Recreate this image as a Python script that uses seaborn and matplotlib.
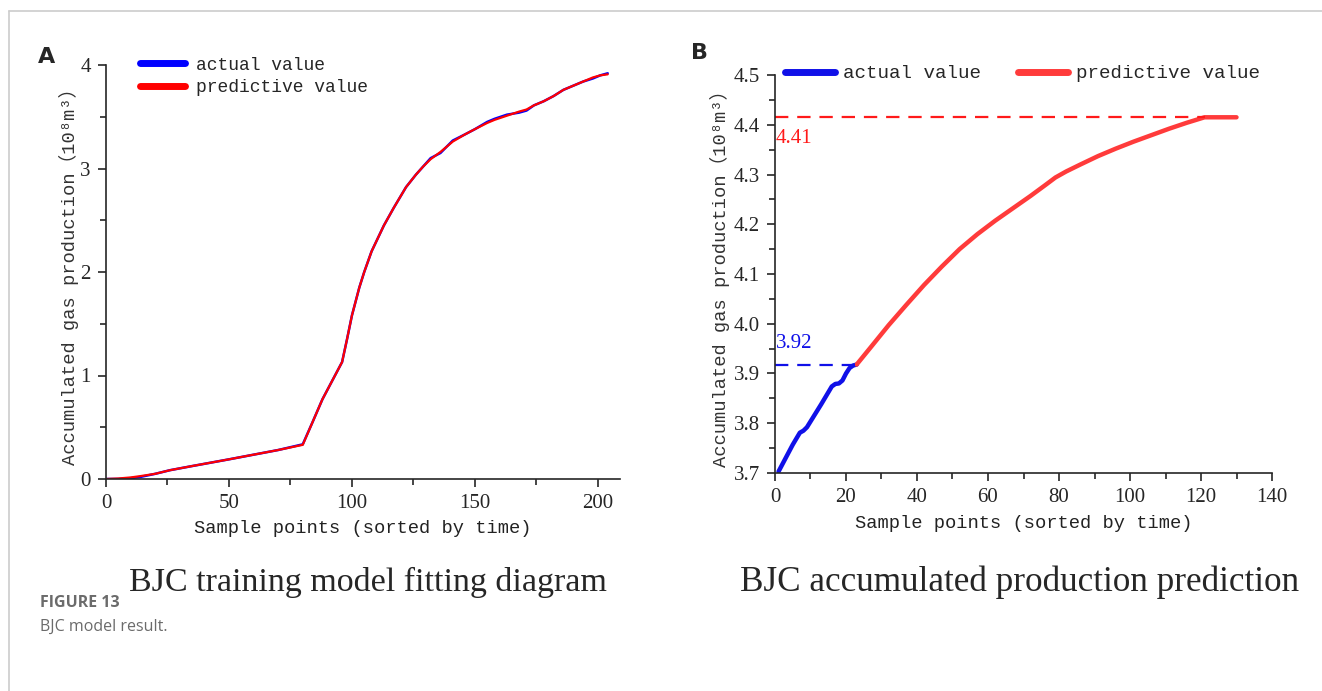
import numpy as np
import pandas as pd
import matplotlib
matplotlib.use("Agg")
import matplotlib.pyplot as plt
import seaborn as sns
from matplotlib.lines import Line2D
from matplotlib.ticker import MultipleLocator, FormatStrFormatter

# ---------------- data ----------------
# Panel A: training fit
a_x = [0, 5, 10, 14, 20, 26, 35, 50, 60, 70, 80, 84, 88, 92, 96, 98, 100, 103, 105, 108,
       110, 113, 117, 122, 126, 129, 132, 136, 141, 146, 150, 155, 158, 163, 168, 171, 174,
       178, 182, 186, 190, 194, 198, 201, 204]
a_pred = [0.0, 0.005, 0.015, 0.028, 0.05, 0.085, 0.125, 0.19, 0.235, 0.28, 0.33, 0.55, 0.77,
          0.95, 1.13, 1.35, 1.58, 1.85, 2.0, 2.2, 2.3, 2.45, 2.62, 2.82, 2.94, 3.02, 3.09, 3.16,
          3.26, 3.33, 3.38, 3.44, 3.47, 3.51, 3.55, 3.57, 3.61, 3.65, 3.70, 3.76, 3.80, 3.84,
          3.88, 3.90, 3.91]
a_actual = [0.0, 0.0, 0.008, 0.02, 0.05, 0.085, 0.125, 0.19, 0.235, 0.28, 0.335, 0.55, 0.77,
            0.95, 1.13, 1.35, 1.58, 1.85, 2.0, 2.2, 2.3, 2.45, 2.62, 2.82, 2.94, 3.02, 3.10, 3.15,
            3.27, 3.33, 3.38, 3.45, 3.48, 3.52, 3.54, 3.56, 3.61, 3.65, 3.70, 3.76, 3.80, 3.84,
            3.87, 3.90, 3.92]

# Panel B: prediction
b_act_x = [1, 3, 5, 7, 8, 9, 11, 13, 15, 16, 17, 18, 19, 20, 21, 22, 23]
b_act_y = [3.703, 3.73, 3.757, 3.781, 3.785, 3.792, 3.815, 3.838, 3.862, 3.874, 3.879, 3.880,
           3.886, 3.900, 3.911, 3.916, 3.918]
b_pred_x = [23, 27, 32, 37, 42, 47, 52, 57, 62, 67, 72, 76, 79, 82, 86, 91, 96, 101, 106,
            111, 116, 121, 125, 130]
b_pred_y = [3.918, 3.953, 3.997, 4.038, 4.078, 4.115, 4.150, 4.180, 4.207, 4.232, 4.257,
            4.278, 4.294, 4.306, 4.320, 4.337, 4.352, 4.366, 4.379, 4.392, 4.404, 4.415,
            4.415, 4.415]
b_last_actual = 3.92
b_final_pred = 4.41
b_plateau_start = 121

legend_labels = ["actual value", "predictive value"]
xlabel = "Sample points (sorted by time)"
ylabel = "Accumulated gas production（10⁸m³）"
sub_a = "BJC training model fitting diagram"
sub_b = "BJC accumulated production prediction"

# ---------------- style ----------------
sns.set_style("ticks")
plt.rcParams["font.family"] = ["Liberation Mono", "Noto Sans CJK SC", "DejaVu Sans"]
plt.rcParams["axes.linewidth"] = 1.2

BLUE = "#0000ff"
RED = "#ff0000"
RED_B = "#ff3b3b"
BLUE_B = "#1010e8"
LABEL_FONT = ["Liberation Mono", "Noto Sans CJK SC", "DejaVu Sans"]

fig = plt.figure(figsize=(13.22, 6.91), dpi=100)

# page border lines
fig.add_artist(Line2D([9 / 1322, 1.0], [1 - 11 / 691] * 2, color="#cccccc", lw=1.2))
fig.add_artist(Line2D([9 / 1322] * 2, [0, 1 - 11 / 691], color="#cccccc", lw=1.2))

# ---------------- Panel A ----------------
axA = fig.add_axes([106 / 1322, 1 - 479 / 691, 514 / 1322, 414 / 691])
dfA = pd.DataFrame({"x": a_x, "actual": a_actual, "pred": a_pred})
sns.lineplot(data=dfA, x="x", y="actual", ax=axA, color=BLUE, lw=1.8)
sns.lineplot(data=dfA, x="x", y="pred", ax=axA, color=RED, lw=1.6)
axA.set_xlim(0, 209)
axA.set_ylim(0, 4)
axA.xaxis.set_major_locator(MultipleLocator(50))
axA.xaxis.set_minor_locator(MultipleLocator(25))
axA.yaxis.set_major_locator(MultipleLocator(1))
axA.yaxis.set_minor_locator(MultipleLocator(0.5))
sns.despine(ax=axA)
axA.tick_params(which="major", length=6, width=1.2, labelsize=15, pad=5)
axA.tick_params(which="minor", length=4, width=1.2)
for lab in axA.get_xticklabels() + axA.get_yticklabels():
    lab.set_family("Liberation Serif")
axA.set_xlabel(xlabel, fontsize=13.5, color="#222222", family=LABEL_FONT)
axA.set_ylabel(ylabel, fontsize=13.5, color="#333333", family=LABEL_FONT)
axA.xaxis.set_label_coords(0.5, -0.098)
axA.yaxis.set_label_coords(-0.052, 0.5)
hA = [Line2D([], [], color=BLUE, lw=5, solid_capstyle="round"),
      Line2D([], [], color=RED, lw=5, solid_capstyle="round")]
axA.legend(hA, legend_labels, loc="upper left", bbox_to_anchor=(0.066, 1.02),
           frameon=False, borderpad=0, borderaxespad=0, handlelength=2.5,
           handletextpad=0.6, labelspacing=0.3, prop={"family": "Liberation Mono", "size": 13})

# ---------------- Panel B ----------------
axB = fig.add_axes([775 / 1322, 1 - 473 / 691, 497 / 1322, 398 / 691])
dfB1 = pd.DataFrame({"x": b_act_x, "y": b_act_y})
dfB2 = pd.DataFrame({"x": b_pred_x, "y": b_pred_y})
sns.lineplot(data=dfB1, x="x", y="y", ax=axB, color=BLUE_B, lw=3.2, solid_capstyle="round")
sns.lineplot(data=dfB2, x="x", y="y", ax=axB, color=RED_B, lw=3.2, solid_capstyle="round")
axB.plot([0, b_act_x[-1]], [b_act_y[-1]] * 2, color=BLUE_B, lw=1.6, ls=(0, (6, 4)))
axB.plot([0, b_plateau_start], [b_pred_y[-1]] * 2, color="#ff1a1a", lw=1.6, ls=(0, (6, 4)))
axB.text(0.3, 3.96, f"{b_last_actual:.2f}", color=BLUE_B, fontsize=15,
         family="Liberation Serif", ha="left", va="center")
axB.text(0.3, 4.372, f"{b_final_pred:.2f}", color="#ff1a1a", fontsize=15,
         family="Liberation Serif", ha="left", va="center")
axB.set_xlim(0, 140)
axB.set_ylim(3.7, 4.5)
axB.xaxis.set_major_locator(MultipleLocator(20))
axB.xaxis.set_minor_locator(MultipleLocator(10))
axB.yaxis.set_major_locator(MultipleLocator(0.1))
axB.yaxis.set_minor_locator(MultipleLocator(0.05))
axB.yaxis.set_major_formatter(FormatStrFormatter("%.1f"))
sns.despine(ax=axB)
axB.tick_params(which="major", length=6, width=1.2, labelsize=15, pad=5)
axB.tick_params(which="minor", length=4, width=1.2)
for lab in axB.get_xticklabels() + axB.get_yticklabels():
    lab.set_family("Liberation Serif")
axB.set_xlabel(xlabel, fontsize=13.5, color="#222222", family=LABEL_FONT)
axB.set_ylabel(ylabel, fontsize=13.5, color="#333333", family=LABEL_FONT)
axB.xaxis.set_label_coords(0.5, -0.105)
axB.yaxis.set_label_coords(-0.09, 0.5)
hB = [Line2D([], [], color=BLUE_B, lw=5, solid_capstyle="round"),
      Line2D([], [], color=RED_B, lw=5, solid_capstyle="round")]
axB.legend(hB, legend_labels, loc="upper left", bbox_to_anchor=(0.02, 1.025), ncol=2,
           frameon=False, borderpad=0, borderaxespad=0, handlelength=2.6,
           handletextpad=0.45, columnspacing=1.9,
           prop={"family": "Liberation Mono", "size": 13.8})

# ---------------- panel letters, subtitles, caption ----------------
fig.text(47 / 1322, 1 - 57 / 691, "A", fontsize=16, fontweight="bold",
         family="DejaVu Sans", ha="center", va="center")
fig.text(700 / 1322, 1 - 53 / 691, "B", fontsize=16, fontweight="bold",
         family="DejaVu Sans", ha="center", va="center")
fig.text(368 / 1322, 1 - 582 / 691, sub_a, fontsize=24.5, family="Liberation Serif",
         ha="center", va="center")
fig.text(1020 / 1322, 1 - 582 / 691, sub_b, fontsize=25.3, family="Liberation Serif",
         ha="center", va="center")
fig.text(40 / 1322, 1 - 603 / 691, "FIGURE 13", fontsize=11.5, fontweight="bold",
         family="Open Sans", color="#6b6b6b", ha="left", va="center")
fig.text(40 / 1322, 1 - 627 / 691, "BJC model result.", fontsize=11.5,
         family="Open Sans", color="#6b6b6b", ha="left", va="center")

fig.savefig("out.png", dpi=100)
